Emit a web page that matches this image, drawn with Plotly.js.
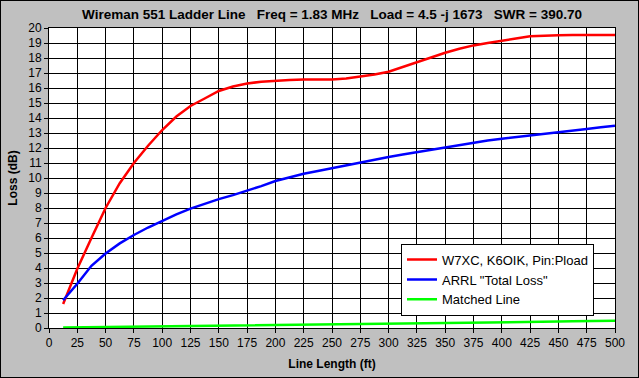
<!DOCTYPE html>
<html>
<head>
<meta charset="utf-8">
<script src="https://cdn.plot.ly/plotly-3.0.1.min.js"></script>
<style>
  html, body { margin: 0; padding: 0; background: #c0c0c0; }
  #wrap { position: relative; width: 639px; height: 378px; }
  #chart { width: 639px; height: 378px; }
  #frame { position: absolute; left: 0; top: 0; width: 639px; height: 378px; box-sizing: border-box; border: 1px solid #000; pointer-events: none; }
</style>
</head>
<body>
<div id="wrap"><div id="chart"></div><div id="frame"></div></div>
<script>
// Line length (ft)
const lengthFt = [12.5, 25, 37.5, 50, 62.5, 75, 87.5, 100, 112.5, 125,
                  137.5, 150, 162.5, 175, 187.5, 200, 212.5, 225, 237.5, 250,
                  262.5, 275, 287.5, 300, 312.5, 325, 337.5, 350, 362.5, 375,
                  387.5, 400, 412.5, 425, 437.5, 450, 462.5, 475, 487.5, 500];

// W7XC, K6OIK, Pin:Pload (dB)
const lossW7XC = [1.6, 3.95, 6.0, 8.0, 9.65, 11.0, 12.15, 13.2, 14.1, 14.8,
                  15.3, 15.8, 16.1, 16.3, 16.42, 16.5, 16.54, 16.56, 16.57, 16.57,
                  16.64, 16.75, 16.9, 17.08, 17.4, 17.73, 18.05, 18.35, 18.62, 18.84,
                  19.0, 19.13, 19.3, 19.45, 19.5, 19.52, 19.53, 19.53, 19.53, 19.53];

// ARRL "Total Loss" (dB)
const lossARRL = [1.85, 2.95, 4.15, 4.97, 5.64, 6.2, 6.7, 7.16, 7.58, 7.96,
                  8.3, 8.59, 8.86, 9.14, 9.46, 9.8, 10.05, 10.28, 10.47, 10.66,
                  10.86, 11.06, 11.23, 11.4, 11.57, 11.73, 11.9, 12.07, 12.23, 12.38,
                  12.5, 12.62, 12.72, 12.82, 12.93, 13.04, 13.15, 13.27, 13.38, 13.49];

// Matched Line (dB)
const lossMatched = [0.03, 0.04, 0.05, 0.06, 0.08, 0.09, 0.10, 0.11, 0.12, 0.13,
                     0.15, 0.16, 0.17, 0.18, 0.19, 0.20, 0.21, 0.23, 0.24, 0.25,
                     0.26, 0.27, 0.28, 0.30, 0.31, 0.32, 0.33, 0.34, 0.35, 0.36,
                     0.38, 0.39, 0.40, 0.41, 0.42, 0.43, 0.45, 0.46, 0.47, 0.48];

const seriesNames = ['W7XC, K6OIK, Pin:Pload', 'ARRL "Total Loss"', 'Matched Line'];
const xTicks = [0, 25, 50, 75, 100, 125, 150, 175, 200, 225, 250, 275, 300, 325, 350, 375, 400, 425, 450, 475, 500];
const yTicks = [0, 1, 2, 3, 4, 5, 6, 7, 8, 9, 10, 11, 12, 13, 14, 15, 16, 17, 18, 19, 20];
const titleText = 'Wireman 551 Ladder Line\u00a0\u00a0\u00a0Freq = 1.83 MHz\u00a0\u00a0\u00a0Load = 4.5 -j 1673\u00a0\u00a0\u00a0SWR = 390.70';

const FONT = '"Liberation Sans", Arial, sans-serif';

const traces = [
  { x: lengthFt, y: lossW7XC, name: seriesNames[0], mode: 'lines', line: { color: '#ff0000', width: 2.5 } },
  { x: lengthFt, y: lossARRL, name: seriesNames[1], mode: 'lines', line: { color: '#0000ff', width: 2.5 } },
  { x: lengthFt, y: lossMatched, name: seriesNames[2], mode: 'lines', line: { color: '#00ff00', width: 2.5 } }
];

const layout = {
  width: 639, height: 378,
  paper_bgcolor: '#c0c0c0',
  plot_bgcolor: '#ffffff',
  margin: { l: 49, r: 24, t: 28, b: 50 },
  font: { family: FONT, size: 12, color: '#000' },
  title: {
    text: '<b>' + titleText + '</b>',
    font: { family: FONT, size: 13.5, color: '#000' },
    x: 0.5, xref: 'paper', xanchor: 'center',
    y: 1 - 14 / 378, yref: 'container', yanchor: 'middle'
  },
  xaxis: {
    range: [0, 500],
    tickvals: xTicks, ticktext: xTicks.map(String),
    showgrid: true, gridcolor: '#000', gridwidth: 1,
    showline: true, linecolor: '#000', linewidth: 1, mirror: true,
    ticks: 'outside', ticklen: 4, tickcolor: '#000',
    zeroline: false,
    tickfont: { family: FONT, size: 12 },
    title: { text: '<b>Line Length (ft)</b>', font: { family: FONT, size: 12 }, standoff: 10 }
  },
  yaxis: {
    range: [0, 20],
    tickvals: yTicks, ticktext: yTicks.map(String),
    showgrid: true, gridcolor: '#000', gridwidth: 1,
    showline: true, linecolor: '#000', linewidth: 1, mirror: true,
    ticks: 'outside', ticklen: 4, tickcolor: '#000',
    zeroline: false,
    tickfont: { family: FONT, size: 12 },
    title: { text: '<b>Loss (dB)</b>', font: { family: FONT, size: 12 }, standoff: 8 }
  },
  showlegend: true,
  legend: {
    x: (401 - 49) / 566, y: (327.7 - 243.3) / 300,
    xanchor: 'left', yanchor: 'top',
    bgcolor: '#ffffff', bordercolor: '#000', borderwidth: 1,
    font: { family: FONT, size: 13, color: '#000' },
    tracegroupgap: 0
  }
};

Plotly.newPlot('chart', traces, layout, { displayModeBar: false, staticPlot: true });
</script>
</body>
</html>
